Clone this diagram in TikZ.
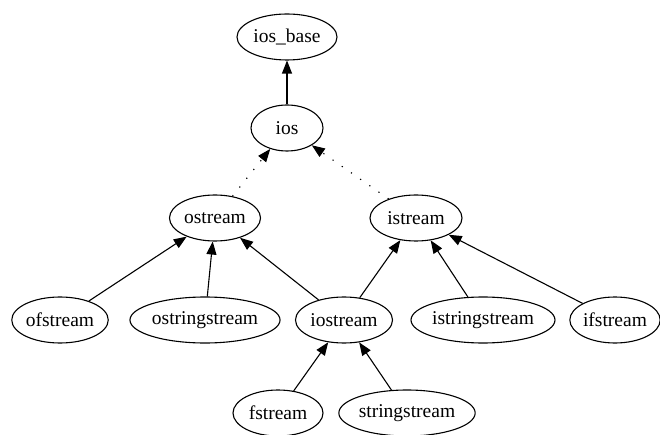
\documentclass[tikz,border=0pt]{standalone}
\usepackage{fontspec}
\setmainfont{Liberation Serif}
\usetikzlibrary{shapes.geometric,arrows.meta}
\begin{document}
\begin{tikzpicture}[x=1pt,y=-1pt,
  cls/.style={draw,ellipse,line width=1.1pt,inner sep=0pt,minimum height=46pt,
    font=\fontsize{19.5}{23}\selectfont},
  arr/.style={line width=1.1pt,-{Triangle[length=13pt,width=10pt]}},
  dotarr/.style={arr,dash pattern=on 1.2pt off 10pt}]
\useasboundingbox (0,0) rectangle (660,435);
\node[cls,minimum width=100pt] (iosbase) at (287,37) {ios\_base};
\node[cls,minimum width=72pt] (ios) at (287,128) {ios};
\node[cls,minimum width=91pt] (ostream) at (215,218) {ostream};
\node[cls,minimum width=92pt] (istream) at (416,218) {istream};
\node[cls,minimum width=96pt] (ofstream) at (60,320) {ofstream};
\node[cls,minimum width=144pt] (ostringstream) at (205,320) {ostringstream};
\node[cls,minimum width=97pt] (iostream) at (344,320) {iostream};
\node[cls,minimum width=134pt] (istringstream) at (483,320) {istringstream};
\node[cls,minimum width=88pt] (ifstream) at (615,320) {ifstream};
\node[cls,minimum width=90pt] (fstream) at (278,413) {fstream};
\node[cls,minimum width=123pt] (stringstream) at (407,413) {stringstream};
\draw[arr] (ios) -- (iosbase);
\draw[dotarr] (ostream) -- (ios);
\draw[dotarr] (istream) -- (ios);
\draw[arr] (ofstream) -- (ostream);
\draw[arr] (ostringstream) -- (ostream);
\draw[arr] (iostream) -- (ostream);
\draw[arr] (iostream) -- (istream);
\draw[arr] (istringstream) -- (istream);
\draw[arr] (ifstream) -- (istream);
\draw[arr] (fstream) -- (iostream);
\draw[arr] (stringstream) -- (iostream);
\end{tikzpicture}
\end{document}
